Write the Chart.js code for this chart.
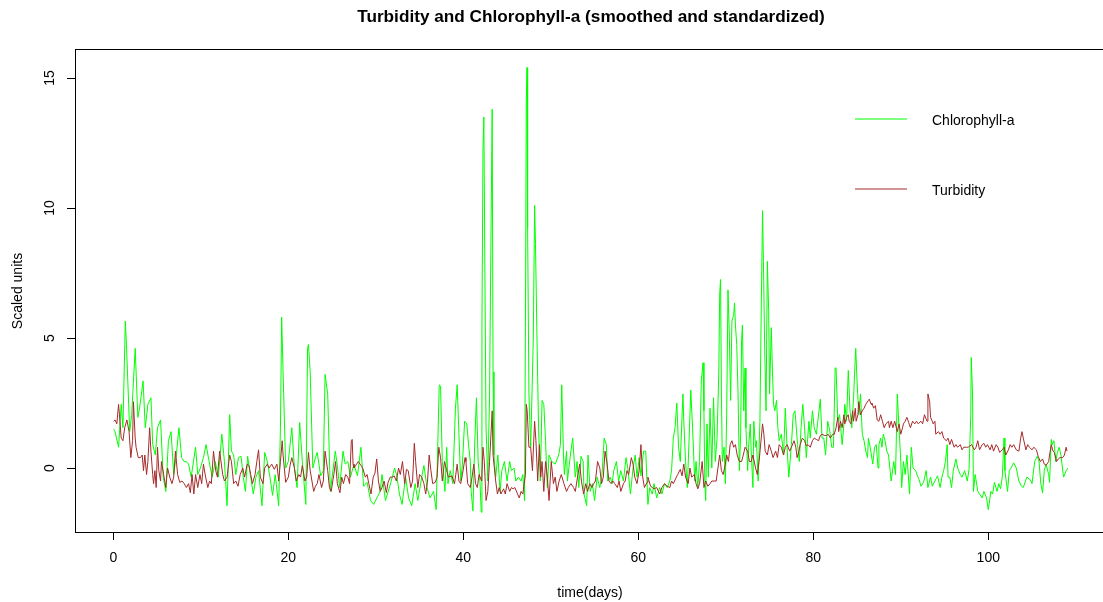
<!DOCTYPE html>
<html>
<head>
<meta charset="utf-8">
<title>Turbidity and Chlorophyll-a</title>
<script src="https://cdn.jsdelivr.net/npm/chart.js@4.4.0/dist/chart.umd.min.js"></script>
<style>
  html, body { margin: 0; padding: 0; background: #fff; }
  #chart { display: block; }
</style>
</head>
<body>
<canvas id="chart" width="1103" height="602"></canvas>
<script>
// [day, scaled value]
const chlorophyll = [
  [0.04,1.49],[0.2,1.4],[0.6,0.8],[0.9,2.45],[1.1,1.55],[1.37,5.65],[1.5,4.75],[1.87,1.4],[2.1,2.05],[2.5,4.6],
  [2.8,1.95],[3.0,2.3],[3.4,3.35],[3.65,1.55],[3.95,2.45],[4.3,2.7],[4.5,0.9],[4.8,0.5],[5.05,1.55],[5.4,1.85],
  [5.7,-0.35],[6.0,-0.9],[6.3,1.05],[6.6,1.4],[6.9,-0.25],[7.2,0.5],[7.5,1.55],[7.8,0.4],[8.1,0.25],[8.35,0.25],
  [8.6,0.15],[8.9,-0.35],[9.4,0.8],[9.65,-0.25],[9.95,0],[10.3,0.4],[10.6,0.9],[10.95,0.25],[11.3,-0.35],[11.65,0.25],
  [12.0,-0.35],[12.4,1.3],[12.7,0.25],[13.0,-1.45],[13.3,2.05],[13.5,0.65],[13.75,0.5],[14.0,-0.25],[14.3,0.4],[14.6,0.45],
  [14.85,-0.35],[15.1,-0.9],[15.35,0.45],[15.65,-0.25],[16.0,-1.0],[16.3,-0.35],[16.6,-0.1],[16.99,-1.45],[17.3,0.6],[17.6,0.25],
  [17.9,-0.35],[18.2,-1.05],[18.5,-0.25],[18.9,-1.45],[19.1,1.55],[19.24,5.8],[19.4,3.7],[19.7,0],[20.0,0.25],[20.4,1.55],
  [20.7,0],[21.0,-0.75],[21.3,1.75],[21.6,0.25],[22.0,-1.4],[22.2,4.6],[22.3,4.75],[22.5,3.7],[22.8,0],[23.1,0.4],
  [23.3,0.6],[23.7,-0.3],[24.0,-0.1],[24.2,3.6],[24.5,2.85],[24.8,-0.9],[25.37,0.65],[25.6,0.1],[25.87,-0.75],[26.25,0.65],
  [26.5,0.15],[26.8,0.25],[27.1,-0.35],[27.5,0.15],[27.9,-0.3],[28.3,0.8],[28.6,-0.7],[29.0,-0.55],[29.4,-1.25],[29.75,-1.4],
  [30.2,-1.1],[30.5,-0.9],[30.7,-0.25],[31.1,-1.25],[31.6,-0.7],[32.15,0],[32.4,-0.3],[32.7,-1.0],[33.0,-1.4],[33.4,-0.35],
  [33.75,-1.15],[34.1,-1.45],[34.5,-0.6],[34.8,-1.25],[35.3,-0.25],[35.5,0.1],[35.85,-0.75],[36.2,-1.15],[36.6,-0.9],[36.9,-1.6],
  [37.1,1.15],[37.25,3.2],[37.4,3.15],[37.6,0.25],[37.9,-0.9],[38.1,0.8],[38.25,-0.6],[38.5,-0.1],[38.8,-0.6],[39.1,2.3],
  [39.3,3.2],[39.5,1.3],[39.7,-0.5],[39.9,0.15],[40.15,1.8],[40.4,1.7],[40.6,0.9],[40.8,0.25],[40.9,-0.9],[41.1,-1.65],
  [41.3,0.9],[41.5,2.7],[41.7,0.25],[41.9,-0.5],[42.05,-1.7],[42.13,5.5],[42.25,12.3],[42.35,13.5],[42.5,6.0],[42.6,1.55],
  [42.8,-0.5],[43.0,2.8],[43.2,10.3],[43.3,13.8],[43.4,3.7],[43.5,0.5],[43.7,-0.35],[43.95,0.5],[44.2,-0.9],[44.4,-0.1],
  [44.7,0.25],[45.0,-0.5],[45.3,0.25],[45.5,-0.1],[45.8,0],[46.0,-0.5],[46.3,-0.35],[46.6,-0.5],[46.8,-0.25],[47.0,-1.25],
  [47.1,5.4],[47.2,14.1],[47.28,15.4],[47.35,9.25],[47.5,2.85],[47.7,0.8],[47.85,2.85],[48.0,5.0],[48.15,10.1],[48.25,8.6],
  [48.4,5.4],[48.6,1.55],[48.8,-0.5],[49.0,2.6],[49.2,2.45],[49.4,1.05],[49.6,-0.75],[49.8,0.5],[50.1,0.25],[50.5,0.15],
  [50.9,0.5],[51.1,0.9],[51.25,3.2],[51.45,0.5],[51.55,-0.25],[51.8,0.65],[51.9,-0.5],[52.2,0.4],[52.5,1.15],[52.8,-0.35],
  [53.0,0.25],[53.2,-0.75],[53.45,0.45],[53.7,0.25],[53.8,-1.0],[54.1,-1.45],[54.25,0.5],[54.5,-0.9],[54.75,-0.6],[55.0,-1.25],
  [55.3,-0.35],[55.6,-0.75],[55.85,-0.25],[56.1,1.15],[56.35,0.9],[56.5,-0.5],[56.8,-0.35],[57.0,-0.6],[57.2,-0.1],[57.5,0.25],
  [57.75,-0.5],[58.0,-0.1],[58.3,-0.5],[58.6,0.4],[58.8,0],[59.1,-1.0],[59.4,0],[59.65,0.5],[59.85,-0.35],[60.1,0.4],
  [60.3,-0.3],[60.6,0.65],[60.85,0.65],[61.1,-1.4],[61.3,-0.75],[61.6,-1.0],[61.8,-0.6],[62.1,-1.15],[62.45,-0.75],[62.7,-1.0],
  [63.0,-0.6],[63.3,-0.75],[63.6,-0.5],[63.8,-0.1],[64.0,1.15],[64.2,1.55],[64.4,2.5],[64.6,0.8],[64.8,0.25],[65.1,2.85],
  [65.2,1.8],[65.4,0.25],[65.6,-0.75],[65.8,1.05],[66.0,3.0],[66.2,1.55],[66.45,-0.5],[66.6,0.25],[66.8,-0.75],[67.0,0.25],
  [67.2,3.35],[67.4,4.05],[67.5,2.2],[67.6,-0.5],[67.7,-1.25],[67.85,1.7],[68.0,-0.35],[68.2,2.3],[68.4,0],[68.6,2.7],
  [68.8,0.25],[69.0,1.15],[69.2,3.7],[69.3,6.7],[69.4,7.25],[69.5,2.85],[69.6,0.25],[69.8,0.8],[69.95,-0.6],[70.1,2.05],
  [70.25,6.85],[70.4,5.15],[70.55,2.6],[70.7,5.65],[70.9,5.9],[71.0,6.35],[71.1,5.5],[71.25,4.75],[71.4,2.85],[71.55,-0.1],
  [71.7,1.3],[71.8,4.9],[71.9,5.5],[72.05,2.2],[72.2,3.85],[72.3,1.55],[72.5,-0.1],[72.6,0.8],[72.8,1.7],[72.9,0.65],
  [73.1,-0.75],[73.2,1.8],[73.4,0.8],[73.5,1.05],[73.7,-0.5],[73.9,1.8],[74.05,6.15],[74.2,9.9],[74.3,7.95],[74.45,4.5],
  [74.6,2.2],[74.75,7.95],[74.9,6.05],[75.0,2.85],[75.2,5.4],[75.3,4.1],[75.45,2.45],[75.6,2.2],[75.8,2.6],[75.95,1.55],
  [76.1,1.05],[76.35,1.3],[76.6,0.5],[76.8,2.3],[77.0,0.8],[77.2,-0.35],[77.5,0.9],[77.7,2.05],[77.9,2.2],[78.0,1.8],
  [78.2,0.9],[78.4,0.25],[78.6,1.55],[78.8,2.45],[79.0,1.55],[79.2,0.4],[79.5,1.8],[79.65,1.15],[79.9,2.2],[80.1,1.55],
  [80.35,1.3],[80.6,2.05],[80.8,2.65],[81.0,1.15],[81.2,1.15],[81.4,0.5],[81.65,1.8],[81.9,1.4],[82.1,0.8],[82.3,0.8],
  [82.5,3.85],[82.6,3.85],[82.8,1.8],[83.0,2.05],[83.3,0.9],[83.5,1.7],[83.6,2.45],[83.8,1.8],[84.0,3.75],[84.2,2.2],
  [84.4,1.55],[84.6,2.7],[84.85,4.6],[85.0,3.35],[85.2,2.05],[85.4,2.85],[85.6,1.3],[85.8,1.05],[86.0,0.65],[86.2,0.4],
  [86.3,1.15],[86.5,0.8],[86.8,0.15],[87.0,0.8],[87.2,0.9],[87.4,0],[87.5,0.9],[87.7,1.15],[87.85,0.8],[88.0,1.3],
  [88.2,1.05],[88.4,0.65],[88.6,0.5],[88.9,-0.5],[89.2,0.25],[89.4,-0.25],[89.6,2.85],[89.8,1.55],[90.0,0.25],[90.1,-0.75],
  [90.3,0.25],[90.5,-0.25],[90.7,0.5],[91.0,-1.0],[91.2,0.8],[91.4,0],[91.7,-0.1],[91.9,-0.3],[92.1,-0.45],[92.3,-0.7],
  [92.6,-0.55],[92.9,-0.1],[93.1,-0.75],[93.4,-0.35],[93.6,-0.7],[93.9,-0.5],[94.2,-0.3],[94.5,-0.75],[94.7,-0.35],[94.9,-0.1],
  [95.1,0.25],[95.3,0.9],[95.4,-0.35],[95.6,-0.35],[95.8,-0.75],[96.0,-0.1],[96.3,0.35],[96.5,0],[96.8,-0.25],[97.0,-0.35],
  [97.3,-0.1],[97.6,-0.5],[97.8,-0.05],[98.0,2.05],[98.05,4.25],[98.2,2.85],[98.3,-0.9],[98.5,-0.25],[98.8,-0.9],[99.0,-1.0],
  [99.3,-1.15],[99.5,-0.9],[99.8,-1.15],[100.0,-1.6],[100.3,-0.9],[100.5,-1.0],[100.7,-0.55],[101.0,-0.9],[101.2,-0.6],[101.4,-0.8],
  [101.6,-0.35],[101.8,1.15],[101.9,-0.1],[102.2,-0.9],[102.4,-0.1],[102.6,0],[102.9,0.2],[103.2,0],[103.5,-0.5],[103.8,-0.7],
  [104.0,-0.75],[104.4,-0.35],[104.8,-0.45],[105.0,-0.6],[105.3,0.25],[105.6,0.45],[105.8,0.25],[106.0,-0.6],[106.2,-0.95],[106.4,-0.1],
  [106.6,0.15],[106.9,-0.25],[107.0,-0.55],[107.2,1.1],[107.3,0.9],[107.5,1.05],[107.7,0.25],[107.9,0.6],[108.1,0.8],[108.3,0.5],
  [108.6,-0.35],[108.9,-0.1],[109.1,0]
];

const turbidity = [
  [0.04,1.8],[0.2,1.85],[0.4,1.7],[0.6,2.45],[0.7,2.05],[0.9,1.15],[1.1,1.05],[1.3,1.55],[1.55,1.85],[1.8,1.4],
  [2.0,0.4],[2.2,1.05],[2.3,2.55],[2.5,1.15],[2.6,0.8],[2.85,0.4],[3.1,0.4],[3.3,0.5],[3.45,-0.1],[3.6,0.5],
  [3.8,-0.25],[3.95,0.25],[4.15,1.55],[4.3,0.65],[4.5,-0.25],[4.6,-0.6],[4.75,-0.1],[4.9,-0.75],[5.05,0.8],[5.2,-0.1],
  [5.4,-0.5],[5.5,0.25],[5.75,-0.25],[6.0,-0.75],[6.2,0],[6.45,-0.35],[6.7,-0.6],[6.9,-0.35],[7.1,0.65],[7.35,-0.25],
  [7.6,-0.55],[7.85,-0.5],[8.1,-0.6],[8.35,-0.75],[8.6,-0.6],[8.8,-0.95],[9.0,-0.25],[9.2,-1.0],[9.4,-0.25],[9.65,-0.75],
  [9.9,-0.25],[10.1,-0.6],[10.3,0.15],[10.55,-0.35],[10.8,-0.75],[11.0,-0.5],[11.2,-0.6],[11.45,0.65],[11.7,-0.1],[11.9,-0.35],
  [12.15,0.65],[12.5,-0.25],[12.7,-0.5],[13.0,-0.35],[13.3,0.5],[13.5,0.25],[13.75,-0.6],[14.0,-0.5],[14.25,-0.7],[14.5,-0.25],
  [14.8,0],[15.0,-0.35],[15.3,0.15],[15.5,0.1],[15.7,-0.25],[15.9,-0.6],[16.2,-0.25],[16.4,0.25],[16.6,0.7],[16.8,-0.35],
  [17.1,-0.6],[17.3,0],[17.6,0.15],[17.8,0],[18.1,0.15],[18.4,-0.05],[18.7,0.15],[18.9,-0.5],[19.1,0.25],[19.3,1.05],
  [19.4,0.5],[19.7,-0.55],[20.0,-0.35],[20.2,0.1],[20.4,0.4],[20.7,0],[20.9,-0.5],[21.2,-0.25],[21.4,-0.35],[21.6,0.1],
  [21.9,-0.5],[22.1,-0.35],[22.3,0.6],[22.5,-0.1],[22.9,-0.9],[23.1,-0.7],[23.3,-0.6],[23.5,-0.25],[23.8,-0.75],[24.0,-0.5],
  [24.2,0.65],[24.5,-0.1],[24.7,-0.75],[24.9,-0.9],[25.2,-0.25],[25.4,0.25],[25.6,-0.6],[25.9,-0.95],[26.1,-0.35],[26.3,-0.6],
  [26.55,-0.25],[26.8,-0.35],[27.0,-0.6],[27.2,1.05],[27.3,1.1],[27.4,0.15],[27.5,0],[27.8,0.15],[28.0,0.25],[28.3,0.1],
  [28.5,0],[28.8,-0.35],[29.0,-0.25],[29.2,-0.6],[29.45,-1.0],[29.7,-0.35],[29.9,-0.2],[30.1,0.35],[30.3,-0.5],[30.5,-0.9],
  [30.7,-0.75],[30.95,-0.5],[31.2,-0.95],[31.4,-0.55],[31.65,-0.35],[31.9,-0.35],[32.1,-0.3],[32.35,-0.5],[32.6,0],[32.8,-0.25],
  [33.05,0.25],[33.3,-0.6],[33.5,-0.05],[33.7,-0.1],[34.0,-0.75],[34.2,-0.5],[34.4,0.95],[34.55,0.25],[34.8,-0.75],[35.0,-0.25],
  [35.25,-0.35],[35.5,-0.6],[35.7,-1.0],[35.9,-0.55],[36.1,0.5],[36.3,-0.1],[36.5,-0.6],[36.8,-0.55],[37.0,-0.35],[37.2,0.8],
  [37.4,0.4],[37.6,-0.5],[37.85,0.25],[38.1,-0.1],[38.3,-0.35],[38.7,-0.3],[39.0,-0.6],[39.3,0.15],[39.5,-0.5],[39.7,-0.6],
  [39.9,-0.25],[40.2,0.4],[40.3,0.25],[40.5,-0.6],[40.8,-0.75],[41.0,-0.35],[41.2,0.15],[41.4,-0.6],[41.6,-0.75],[41.8,-0.25],
  [42.1,-0.5],[42.25,0.8],[42.4,0.25],[42.6,-1.25],[42.8,-0.9],[43.0,0.25],[43.3,2.2],[43.4,0.5],[43.7,-0.5],[43.9,-1.0],
  [44.1,-0.75],[44.3,-1.0],[44.6,-0.8],[44.8,-1.0],[45.0,-0.6],[45.3,-0.9],[45.5,-0.75],[45.7,-0.8],[45.9,-0.75],[46.2,-1.0],
  [46.4,-1.15],[46.6,-0.9],[46.8,-1.0],[47.1,-0.25],[47.2,2.45],[47.3,2.2],[47.5,0.8],[47.7,0.8],[47.9,-0.1],[48.15,1.8],
  [48.3,1.05],[48.5,-0.5],[48.7,0.9],[48.85,-0.35],[49.0,0.25],[49.2,-0.9],[49.4,0.25],[49.6,-0.35],[49.8,-1.25],[50.05,0.25],
  [50.3,-0.6],[50.5,-0.35],[50.7,-0.9],[50.95,-0.5],[51.2,-0.25],[51.5,-0.6],[51.8,-0.9],[52.0,-0.75],[52.3,-0.6],[52.6,-0.75],
  [52.8,-0.9],[53.1,-0.25],[53.3,0.15],[53.5,-0.5],[53.75,-1.0],[54.0,-0.6],[54.2,-0.9],[54.45,-0.6],[54.7,-0.75],[54.9,-0.6],
  [55.1,-0.5],[55.35,0.25],[55.6,0],[55.8,-0.6],[56.0,-0.35],[56.2,0.65],[56.4,0.25],[56.65,-0.5],[56.9,-0.6],[57.1,-0.5],
  [57.3,-0.6],[57.6,-0.75],[57.8,-0.5],[58.0,-0.9],[58.3,-0.6],[58.5,-0.5],[58.7,-0.1],[58.9,-0.25],[59.2,0.4],[59.4,0.15],
  [59.6,-0.35],[59.85,-0.6],[60.1,-0.1],[60.3,0.9],[60.5,-0.35],[60.7,-0.75],[61.0,-0.55],[61.1,-0.35],[61.4,-0.7],[61.6,-0.75],
  [61.8,-0.8],[62.1,-0.75],[62.45,-1.0],[62.7,-0.75],[63.0,-0.6],[63.3,-0.7],[63.6,-0.75],[63.8,-0.5],[64.0,-0.6],[64.35,-0.35],
  [64.5,-0.25],[64.8,-0.05],[65.0,-0.3],[65.2,0.15],[65.4,-0.35],[65.7,-0.6],[65.9,0],[66.1,-0.35],[66.4,-0.25],[66.6,-0.6],
  [66.8,-0.8],[67.0,-0.6],[67.3,0.25],[67.5,-0.75],[67.7,-0.5],[67.95,-0.7],[68.2,-0.6],[68.4,-0.5],[68.65,-0.5],[68.9,-0.5],
  [69.1,0],[69.3,0.5],[69.5,-0.1],[69.7,-0.25],[69.95,0.15],[70.1,0.5],[70.3,0.25],[70.5,0.9],[70.7,1.05],[70.9,0.8],
  [71.1,0.9],[71.3,0.5],[71.55,0.25],[71.8,0.25],[72.0,0.5],[72.2,0.8],[72.5,0.65],[72.7,0.25],[72.9,0.25],[73.1,0.5],
  [73.4,0],[73.6,-0.25],[73.8,0.25],[74.05,1.15],[74.2,1.7],[74.35,1.3],[74.5,0.65],[74.75,0.5],[74.95,0.9],[75.2,0.65],
  [75.4,0.4],[75.7,0.65],[75.9,0.4],[76.1,0.9],[76.35,0.8],[76.6,0.5],[76.8,0.8],[77.0,0.9],[77.3,0.65],[77.5,0.8],
  [77.8,1.05],[78.0,0.8],[78.15,0.4],[78.35,0.65],[78.5,0.9],[78.75,1.15],[79.0,1.05],[79.2,0.85],[79.4,0.9],[79.65,0.8],
  [79.9,1.05],[80.1,1.15],[80.35,1.1],[80.6,1.05],[80.8,1.25],[81.0,1.3],[81.3,1.25],[81.5,1.25],[81.7,1.3],[81.95,1.15],
  [82.2,1.3],[82.4,1.3],[82.6,1.55],[82.8,1.95],[82.9,1.4],[83.1,1.8],[83.3,1.55],[83.5,2.05],[83.6,1.7],[83.8,1.95],
  [84.0,2.05],[84.1,1.8],[84.3,1.7],[84.5,2.2],[84.6,1.8],[84.8,2.3],[84.9,1.8],[85.1,2.05],[85.2,2.55],[85.4,2.05],
  [85.6,2.2],[85.8,2.3],[86.0,2.45],[86.3,2.6],[86.4,2.65],[86.6,2.45],[86.7,2.5],[86.9,2.3],[87.1,2.4],[87.3,1.85],
  [87.5,1.8],[87.7,2.05],[87.9,1.8],[88.1,1.55],[88.3,1.7],[88.6,1.8],[88.7,1.55],[88.9,1.8],[89.1,1.55],[89.3,1.8],
  [89.6,1.4],[89.8,1.7],[90.0,1.3],[90.2,1.55],[90.3,1.7],[90.5,1.8],[90.7,1.95],[90.9,1.75],[91.1,1.55],[91.35,1.8],
  [91.6,1.7],[91.8,1.8],[92.0,1.7],[92.3,1.8],[92.5,1.7],[92.7,2.05],[93.0,1.8],[93.1,2.85],[93.3,2.55],[93.4,1.95],
  [93.6,1.8],[93.7,1.7],[93.9,1.8],[94.0,1.3],[94.3,1.4],[94.5,1.3],[94.7,1.4],[94.9,1.15],[95.2,1.05],[95.4,1.15],
  [95.6,0.9],[95.8,1.1],[96.1,0.8],[96.3,0.9],[96.5,0.8],[96.8,0.9],[97.0,0.7],[97.2,0.8],[97.5,0.8],[97.7,0.8],
  [97.9,0.85],[98.1,0.9],[98.4,0.7],[98.6,0.8],[98.8,1.05],[99.0,0.7],[99.3,0.9],[99.5,0.95],[99.7,0.8],[99.9,0.9],
  [100.2,0.7],[100.4,0.9],[100.6,0.65],[100.9,0.9],[101.1,0.8],[101.3,0.6],[101.6,0.7],[101.8,0.8],[102.0,0.5],[102.3,0.7],
  [102.5,0.9],[102.7,0.8],[102.9,0.9],[103.2,0.7],[103.5,0.65],[103.7,1.15],[103.85,1.4],[104.0,1.15],[104.3,0.7],[104.5,0.9],
  [104.7,0.8],[105.0,0.7],[105.2,0.8],[105.5,0.7],[105.7,0.45],[105.95,0.25],[106.2,0.35],[106.4,0.15],[106.6,0.1],[106.9,0.25],
  [107.0,0.5],[107.2,0.9],[107.4,0.65],[107.55,0.6],[107.8,0.25],[108.0,0.35],[108.2,0.4],[108.5,0.4],[108.7,0.5],[108.9,0.8],
  [109.0,0.65]
];

const seriesNames = ['Chlorophyll-a', 'Turbidity'];
const seriesColors = ['#00ff00', '#a52a2a'];
const xTicks = [0, 20, 40, 60, 80, 100];
const yTicks = [0, 5, 10, 15];

const FONT = '"Liberation Sans", Arial, sans-serif';

// base-R style frame, axes, titles and legend
const rFrame = {
  id: 'rFrame',
  afterDraw(chart) {
    const { ctx, chartArea: a, scales: { x, y } } = chart;
    ctx.save();
    ctx.strokeStyle = '#000';
    ctx.fillStyle = '#000';
    ctx.lineWidth = 1;

    // box (right edge falls just off the canvas, as in the original)
    ctx.strokeRect(a.left + 0.5, a.top + 0.5, 1106 - a.left, a.bottom - a.top);

    // x axis ticks + labels
    ctx.font = '14px ' + FONT;
    ctx.textAlign = 'center';
    ctx.textBaseline = 'middle';
    ctx.beginPath();
    xTicks.forEach(t => {
      const px = Math.round(x.getPixelForValue(t)) + 0.5;
      ctx.moveTo(px, a.bottom);
      ctx.lineTo(px, a.bottom + 8);
    });
    ctx.stroke();
    xTicks.forEach(t => ctx.fillText(String(t), x.getPixelForValue(t), a.bottom + 26));

    // y axis ticks + rotated labels
    ctx.beginPath();
    yTicks.forEach(t => {
      const py = Math.round(y.getPixelForValue(t)) + 0.5;
      ctx.moveTo(a.left, py);
      ctx.lineTo(a.left - 8, py);
    });
    ctx.stroke();
    yTicks.forEach(t => {
      ctx.save();
      ctx.translate(a.left - 25, y.getPixelForValue(t));
      ctx.rotate(-Math.PI / 2);
      ctx.fillText(String(t), 0, 0);
      ctx.restore();
    });

    // axis titles
    ctx.fillText('time(days)', 590, 593);
    ctx.save();
    ctx.translate(18, 291);
    ctx.rotate(-Math.PI / 2);
    ctx.fillText('Scaled units', 0, 0);
    ctx.restore();

    // main title
    ctx.font = 'bold 17.2px ' + FONT;
    ctx.fillText('Turbidity and Chlorophyll-a (smoothed and standardized)', 591, 17);

    // legend (no box)
    ctx.font = '14px ' + FONT;
    ctx.textAlign = 'left';
    const rows = [119, 189];
    seriesNames.forEach((name, i) => {
      ctx.strokeStyle = seriesColors[i];
      ctx.beginPath();
      ctx.moveTo(855, rows[i]);
      ctx.lineTo(907, rows[i]);
      ctx.stroke();
      ctx.fillStyle = '#000';
      ctx.fillText(name, 932, rows[i] + 2);
    });
    ctx.restore();
  }
};

const toPoints = s => s.map(([d, v]) => ({ x: d, y: v }));

new Chart(document.getElementById('chart'), {
  type: 'line',
  data: {
    datasets: [
      // first dataset is painted last, so turbidity sits on top like lines() in R
      { label: seriesNames[1], data: toPoints(turbidity), borderColor: seriesColors[1], borderWidth: 1 },
      { label: seriesNames[0], data: toPoints(chlorophyll), borderColor: seriesColors[0], borderWidth: 1 }
    ]
  },
  options: {
    responsive: false,
    animation: false,
    events: [],
    layout: { padding: { left: 75, top: 49, right: 0, bottom: 70 } },
    elements: { point: { radius: 0 }, line: { tension: 0, fill: false } },
    plugins: { legend: { display: false }, tooltip: { enabled: false }, title: { display: false } },
    scales: {
      x: { type: 'linear', display: false, min: -4.38, max: 113.11 },
      y: { type: 'linear', display: false, min: -2.46, max: 16.115 }
    }
  },
  plugins: [rFrame]
});
</script>
</body>
</html>
